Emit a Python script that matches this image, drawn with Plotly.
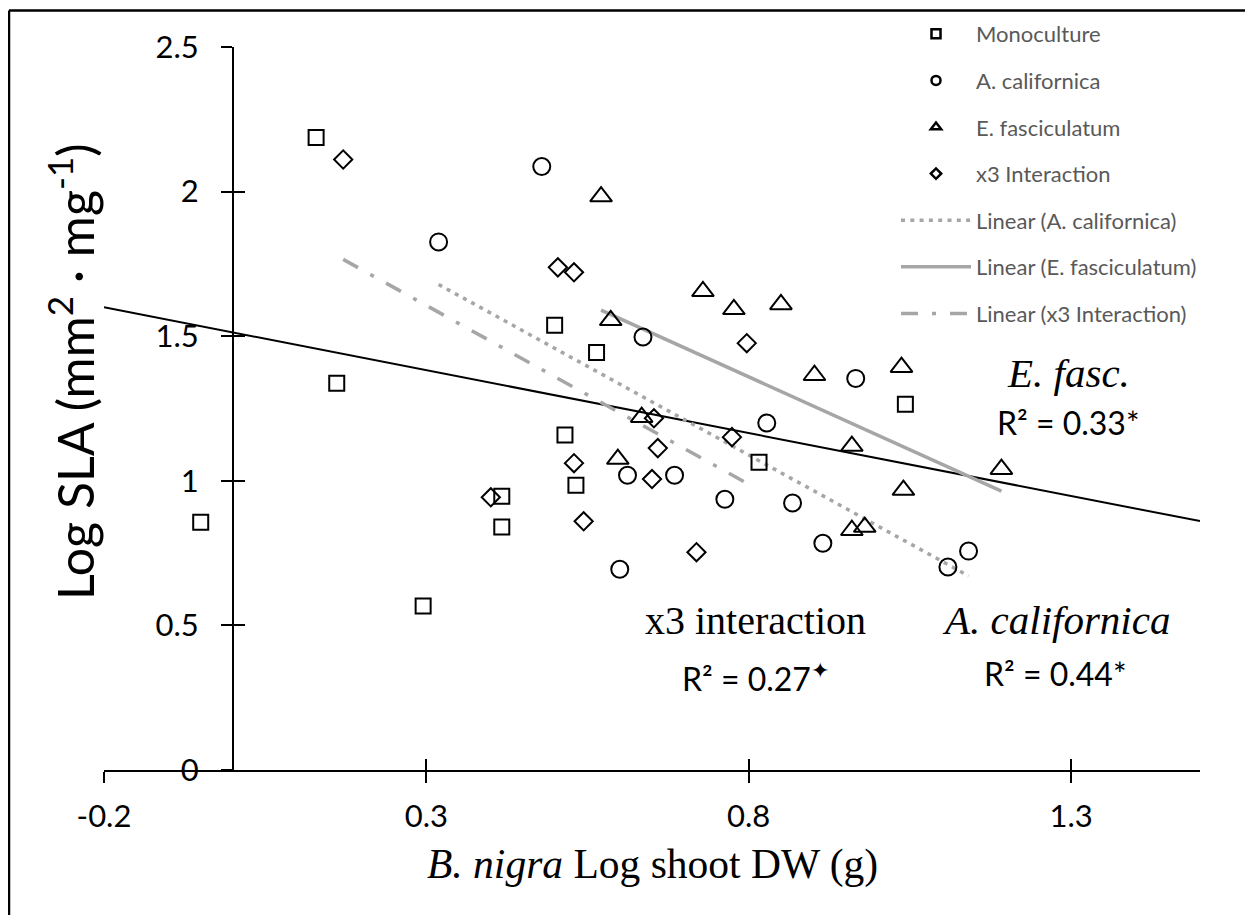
import plotly.graph_objects as go

# ---------------- data ----------------
mono_x = [0.129, 0.161, -0.050, 0.295, 0.417, 0.417, 0.499, 0.564, 0.515, 0.532, 0.816, 1.043]
mono_y = [2.187, 1.337, 0.857, 0.567, 0.947, 0.840, 1.538, 1.444, 1.158, 0.985, 1.064, 1.265]

acal_x = [0.479, 0.319, 0.636, 0.828, 0.612, 0.685, 0.763, 0.868, 0.600, 0.915, 0.966, 1.109, 1.141]
acal_y = [2.087, 1.826, 1.497, 1.200, 1.019, 1.019, 0.936, 0.923, 0.694, 0.784, 1.354, 0.702, 0.757]

efas_x = [0.571, 0.729, 0.777, 0.850, 0.586, 0.902, 0.634, 0.597, 1.037, 0.960, 1.040, 1.192, 0.960, 0.980]
efas_y = [1.983, 1.655, 1.593, 1.610, 1.555, 1.365, 1.220, 1.075, 1.393, 1.120, 0.968, 1.040, 0.829, 0.840]

x3_x = [0.171, 0.504, 0.529, 0.797, 0.653, 0.774, 0.659, 0.529, 0.650, 0.400, 0.544, 0.719]
x3_y = [2.111, 1.738, 1.721, 1.476, 1.216, 1.151, 1.113, 1.061, 1.006, 0.943, 0.860, 0.753]

# fitted trend lines: (intercept, slope)
fit_all = (1.513, -0.435)
fit_acal = (2.070, -1.226)
fit_efas = (2.166, -1.008)
fit_x3 = (1.977, -1.236)

x_range = [-0.2, 1.5]
y_range = [0, 2.5]
x_ticks = [-0.2, 0.3, 0.8, 1.3]
x_ticktext = ["-0.2", "0.3", "0.8", "1.3"]
y_ticks = [0, 0.5, 1, 1.5, 2, 2.5]
y_ticktext = ["0", "0.5", "1", "1.5", "2", "2.5"]

legend_names = ["Monoculture", "A. californica", "E. fasciculatum", "x3 Interaction",
                "Linear (A. californica)", "Linear (E. fasciculatum)", "Linear (x3 Interaction)"]

# ---------------- layout geometry ----------------
# the page has an 8px body margin; the figure is sized to fit the 1253x923 window
OFF = 8
W, H = 1253 - 2 * OFF, 923 - 2 * OFF
PL, PR, PT, PB = 104, 1200, 47, 770          # plot area in screen pixels
L, T = PL - OFF, PT - OFF
R, B = W - (PR - OFF), H - (PB - OFF)
PW, PH = PR - PL, PB - PT


def px_x(px):
    return (px - PL) / PW


def px_y(py):
    return (PB - py) / PH


def line_pts(fit, xs):
    a, b = fit
    return xs, [a + b * v for v in xs]


SANS = "Lato, Carlito, Calibri, sans-serif"
SERIF = "Liberation Serif, Times New Roman, serif"
GRAY = "#A6A6A6"

fig = go.Figure()

# black overall trend line across full axis range
lx, ly = line_pts(fit_all, x_range)
fig.add_trace(go.Scatter(x=lx, y=ly, mode="lines", line=dict(color="black", width=2),
                         showlegend=False, hoverinfo="skip"))

# grey fitted lines
lx, ly = line_pts(fit_acal, [min(acal_x), max(acal_x)])
fig.add_trace(go.Scatter(x=lx, y=ly, mode="lines",
                         line=dict(color=GRAY, width=3.5, dash="4px,5.3px"),
                         showlegend=False, hoverinfo="skip"))
lx, ly = line_pts(fit_efas, [min(efas_x), max(efas_x)])
fig.add_trace(go.Scatter(x=lx, y=ly, mode="lines",
                         line=dict(color=GRAY, width=3.5),
                         showlegend=False, hoverinfo="skip"))
lx, ly = line_pts(fit_x3, [min(x3_x), max(x3_x)])
fig.add_trace(go.Scatter(x=lx, y=ly, mode="lines",
                         line=dict(color=GRAY, width=3.5, dash="17px,14px,4px,14px"),
                         showlegend=False, hoverinfo="skip"))

mk_line = dict(color="black", width=2)
fig.add_trace(go.Scatter(x=mono_x, y=mono_y, mode="markers", showlegend=False,
                         marker=dict(symbol="square-open", size=15, color="black", line=mk_line)))
fig.add_trace(go.Scatter(x=acal_x, y=acal_y, mode="markers", showlegend=False,
                         marker=dict(symbol="circle-open", size=17, color="black", line=mk_line)))
fig.add_trace(go.Scatter(x=efas_x, y=efas_y, mode="markers", showlegend=False,
                         marker=dict(symbol="triangle-up-open", size=19, color="black", line=mk_line)))
fig.add_trace(go.Scatter(x=x3_x, y=x3_y, mode="markers", showlegend=False,
                         marker=dict(symbol="diamond-open", size=14, color="black", line=mk_line)))

# legend proxies (small symbols, as in the reference legend)
leg_syms = ["square-open", "circle-open", "triangle-up-open", "diamond-open"]
leg_sizes = [9, 9, 9, 8]
for i in range(4):
    fig.add_trace(go.Scatter(x=[None], y=[None], mode="markers", name=legend_names[i],
                             legendgroup=legend_names[i],
                             marker=dict(symbol=leg_syms[i], size=leg_sizes[i], color="black",
                                         line=dict(color="black", width=2.5))))
leg_dash = ["4px,5.3px", "solid", "17px,14px,4px,14px"]
for i in range(3):
    fig.add_trace(go.Scatter(x=[None], y=[None], mode="lines", name=legend_names[4 + i],
                             legendgroup=legend_names[4 + i],
                             line=dict(color=GRAY, width=3.5, dash=leg_dash[i])))

# dummy trace so the overlay axes (crossing tick halves) are drawn
fig.add_trace(go.Scatter(x=[None], y=[None], xaxis="x2", yaxis="y2",
                         showlegend=False, hoverinfo="skip"))

ypos = (0 - x_range[0]) / (x_range[1] - x_range[0])
tickfont = dict(family=SANS, size=31, color="black")

fig.update_layout(
    width=W, height=H,
    margin=dict(l=L, r=R, t=T, b=B, autoexpand=False),
    paper_bgcolor="white", plot_bgcolor="white",
    xaxis=dict(range=x_range, tickmode="array", tickvals=x_ticks, ticktext=x_ticktext,
               ticks="outside", ticklen=11, tickwidth=2, tickcolor="black",
               showline=True, linecolor="black", linewidth=2, showgrid=False, zeroline=False,
               tickfont=tickfont, ticklabelstandoff=7, anchor="y"),
    xaxis2=dict(range=x_range, overlaying="x", anchor="y", side="bottom", tickmode="array",
                tickvals=x_ticks, ticks="inside", ticklen=11, tickwidth=2, tickcolor="black",
                showticklabels=False, showline=False, showgrid=False, zeroline=False),
    yaxis=dict(range=y_range, tickmode="array", tickvals=y_ticks, ticktext=y_ticktext,
               ticks="outside", ticklen=11, tickwidth=2, tickcolor="black",
               showline=True, linecolor="black", linewidth=2, showgrid=False, zeroline=False,
               tickfont=tickfont, anchor="free", position=ypos, ticklabelstandoff=16),
    yaxis2=dict(range=y_range, overlaying="y", anchor="free", position=ypos, side="left",
                tickmode="array", tickvals=y_ticks, ticks="inside", ticklen=11, tickwidth=2,
                tickcolor="black", showticklabels=False, showline=False, showgrid=False,
                zeroline=False),
    legend=dict(xref="container", yref="container", x=(896 - OFF) / W, y=1 - (13 - OFF) / H,
                xanchor="left", yanchor="top", traceorder="grouped", tracegroupgap=15,
                itemwidth=70, font=dict(family=SANS, size=22, color="#595959"),
                bgcolor="rgba(0,0,0,0)", borderwidth=0),
    showlegend=True,
)

annos = [
    dict(text="Log SLA (mm<sup>2</sup> · mg<sup>-1</sup>)", cx=72, cy=372, font=dict(family=SANS, size=50), angle=-90),
    dict(text="<i>B. nigra</i> Log shoot DW (g)", cx=652, cy=864, font=dict(family=SERIF, size=41.5), angle=0),
    dict(text="<i>E. fasc.</i>", cx=1068, cy=373, font=dict(family=SERIF, size=41), angle=0),
    dict(text="R² = 0.33*", cx=1068, cy=423, font=dict(family=SANS, size=32), angle=0),
    dict(text="x3 interaction", cx=755, cy=620, font=dict(family=SERIF, size=40), angle=0),
    dict(text="R² = 0.27<sup>✦</sup>", cx=755, cy=677, font=dict(family=SANS, size=32), angle=0),
    dict(text="<i>A. californica</i>", cx=1056, cy=620, font=dict(family=SERIF, size=41), angle=0),
    dict(text="R² = 0.44*", cx=1055, cy=673, font=dict(family=SANS, size=32), angle=0),
]
for a in annos:
    f = dict(a["font"])
    f["color"] = "black"
    fig.add_annotation(text=a["text"], xref="paper", yref="paper", x=px_x(a["cx"]), y=px_y(a["cy"]),
                       xanchor="center", yanchor="middle", showarrow=False, font=f,
                       textangle=a["angle"])

# outer frame (left and top edges visible in the reference)
fig.add_shape(type="line", xref="paper", yref="paper", x0=px_x(9), x1=px_x(9),
              y0=px_y(930), y1=px_y(10.5), line=dict(color="black", width=2.5))
fig.add_shape(type="line", xref="paper", yref="paper", x0=px_x(9), x1=px_x(1260),
              y0=px_y(10.5), y1=px_y(10.5), line=dict(color="black", width=2.5))

fig.write_html("out.html")
